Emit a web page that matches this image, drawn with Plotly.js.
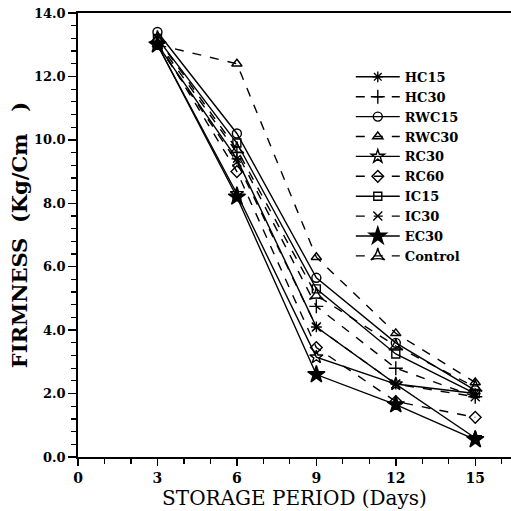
<!DOCTYPE html>
<html>
<head>
<meta charset="utf-8">
<script src="https://cdn.plot.ly/plotly-3.0.1.min.js"></script>
<style>html,body{margin:0;padding:0;background:#fff}#chart{width:511px;height:511px}</style>
</head>
<body>
<div id="chart"></div>
<script>
const days = [3, 6, 9, 12, 15];
const seriesNames = ["HC15", "HC30", "RWC15", "RWC30", "RC30", "RC60", "IC15", "IC30", "EC30", "Control"];
const HC15 = [13.0, 9.4, 4.1, 2.3, 2.0];
const HC30 = [13.1, 9.6, 4.75, 2.8, 1.9];
const RWC15 = [13.4, 10.2, 5.65, 3.6, 2.1];
const RWC30 = [13.0, 12.4, 6.3, 3.9, 2.35];
const RC30 = [13.0, 8.3, 3.15, 2.3, 0.6];
const RC60 = [13.1, 9.0, 3.45, 1.75, 1.25];
const IC15 = [13.2, 9.9, 5.3, 3.25, 2.0];
const IC30 = [13.0, 9.3, 4.1, 2.3, 1.9];
const EC30 = [13.0, 8.2, 2.6, 1.65, 0.55];
const Control = [13.2, 9.7, 5.1, 3.5, 2.2];
const seriesValues = [HC15, HC30, RWC15, RWC30, RC30, RC60, IC15, IC30, EC30, Control];
const xTickVals = [0, 3, 6, 9, 12, 15];
const xTickText = ["0", "3", "6", "9", "12", "15"];
const yTickVals = [0, 2, 4, 6, 8, 10, 12, 14];
const yTickText = ["0.0", "2.0", "4.0", "6.0", "8.0", "10.0", "12.0", "14.0"];

const symbols = ["asterisk-open", "cross-thin-open", "circle-open", "triangle-up-open", "star-open",
                 "diamond-open", "square-open", "x-thin-open", "star", "star-triangle-up-open"];
const dashes = ["solid", "dash", "solid", "dash", "solid", "dash", "solid", "dash", "solid", "dash"];
const sizes = [9, 10, 9, 9, 10, 9, 8, 9, 13, 10];

const traces = seriesNames.map((n, i) => ({
  x: days, y: seriesValues[i], name: n, type: "scatter", mode: "lines+markers",
  line: {color: "#000", width: 1.4, dash: dashes[i]},
  marker: {symbol: symbols[i], size: sizes[i], color: "#000", line: {color: "#000", width: 1.4}}
}));

const serif = "DejaVu Serif, Liberation Serif, serif";
const layout = {
  width: 511, height: 511,
  margin: {l: 78, r: 0, t: 13, b: 54},
  paper_bgcolor: "#fff", plot_bgcolor: "#fff",
  showlegend: true,
  legend: {x: 0.63, y: 0.89, xanchor: "left", yanchor: "top", bgcolor: "rgba(0,0,0,0)",
           font: {family: serif, size: 13, color: "#000", weight: "bold"}, itemwidth: 44, tracegroupgap: 0},
  xaxis: {
    range: [0, 16.35], tickmode: "array", tickvals: xTickVals, ticktext: xTickText,
    ticks: "outside", ticklen: 7, tickwidth: 1.5, tickcolor: "#000",
    minor: {dtick: 1, ticks: "outside", ticklen: 5, tickwidth: 1.2, tickcolor: "#000"},
    showline: true, linecolor: "#000", linewidth: 1.8, mirror: true, showgrid: false, zeroline: false,
    tickfont: {family: serif, size: 14, color: "#000", weight: "bold"},
    title: {text: "STORAGE PERIOD (Days)", font: {family: serif, size: 20, color: "#000"}, standoff: 0}
  },
  yaxis: {
    range: [0, 14], tickmode: "array", tickvals: yTickVals, ticktext: yTickText,
    ticks: "outside", ticklen: 8, tickwidth: 1.5, tickcolor: "#000",
    minor: {dtick: 0.4, ticks: "outside", ticklen: 5, tickwidth: 1.2, tickcolor: "#000"},
    showline: true, linecolor: "#000", linewidth: 1.8, showgrid: false, zeroline: false,
    tickfont: {family: serif, size: 13, color: "#000", weight: "bold"},
    title: {text: "FIRMNESS  (Kg/Cm   )", font: {family: serif, size: 21, color: "#000", weight: "bold"}, standoff: 0}
  }
};
Plotly.newPlot("chart", traces, layout, {displayModeBar: false, staticPlot: true});
</script>
</body>
</html>
